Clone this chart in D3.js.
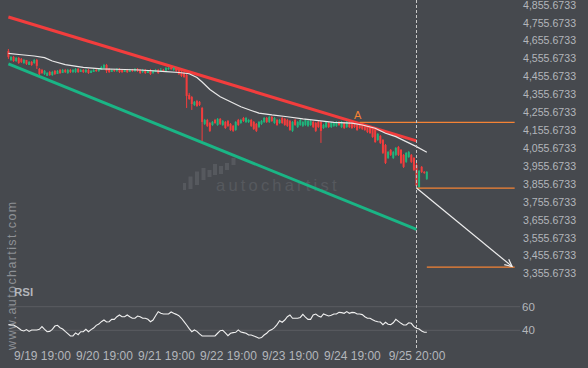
<!DOCTYPE html>
<html><head><meta charset="utf-8">
<script src="https://cdn.jsdelivr.net/npm/d3@7"></script>
<style>
html,body{margin:0;padding:0;background:#46494e;}
svg{display:block;}
text{font-family:"Liberation Sans",Arial,sans-serif;}
</style></head><body>
<svg id="c" width="588" height="368"></svg>
<script>
// ---------- DATA ----------
const startTime = "2019-09-19T06:00:00Z"; // first hourly candle
const opens = [4595,4545,4562,4539,4556,4551,4528,4545,4517,4534,4528,4545,4495,
4489,4467,4456,4478,4461,4484,4467,4489,4472,4489,
4472,4489,4478,4478,4495,4478,4489,4478,4489,4472,
4478,4489,4484,4489,4500,4517,4495,4478,4489,4484,
4495,4489,4478,4489,4478,4489,4484,4495,4489,4478,
4489,4472,4489,4472,4478,4489,4478,4489,4484,4495,
4500,4489,4500,4489,4478,4472,4461,4350,4338,4294,
4316,4311,4277,4188,4210,4193,4182,4210,4182,4216,
4182,4199,4204,4188,4177,4154,4210,4193,4221,4199,
4199,4210,4199,4188,4171,4188,4199,4221,4199,4227,
4193,4210,4193,4221,4216,4210,4204,4149,4210,4171,
4182,4177,4182,4177,4182,4199,4193,4199,4199,4165,
4171,4193,4171,4177,4177,4199,4171,4193,4171,4193,
4193,4193,4182,4182,4177,4171,4171,4171,4165,4154,
4098,4121,4098,4070,3998,4043,3998,4015,4059,4043,
4015,3976,4003,4015,3998,3959,3836,3948,3920,3881];
const closes = [4562,4562,4539,4556,4528,4534,4545,4523,4534,4517,4545,4512,4467,
4472,4484,4472,4461,4478,4467,4484,4472,4489,4478,
4489,4478,4489,4495,4478,4489,4478,4489,4472,4484,
4489,4484,4495,4506,4517,4484,4478,4489,4484,4495,
4478,4478,4489,4478,4489,4484,4495,4484,4472,4489,
4472,4484,4467,4484,4489,4472,4489,4484,4500,4500,
4495,4500,4484,4467,4456,4450,4344,4327,4299,4311,
4288,4294,4199,4210,4177,4149,4199,4193,4216,4188,
4204,4165,4177,4154,4149,4199,4182,4210,4204,4221,
4210,4177,4160,4149,4199,4204,4221,4199,4227,4204,
4221,4182,4210,4193,4182,4177,4154,4199,4182,4199,
4210,4199,4210,4204,4204,4171,4149,4171,4149,4182,
4199,4171,4193,4193,4199,4182,4199,4165,4199,4171,
4165,4171,4154,4165,4160,4154,4143,4137,4115,4087,
4132,4082,4026,3970,4031,4015,4031,4054,4015,3970,
3948,4026,4031,3976,3931,3842,3925,3920,3914,3920];
const highs = [4606,4567,4567,4562,4562,4556,4551,4545,4539,4539,4551,4551,4500,
4495,4489,4478,4484,4484,4489,4489,4495,4495,4495,
4495,4495,4495,4500,4500,4495,4495,4495,4495,4489,
4495,4495,4500,4512,4523,4523,4500,4495,4495,4500,
4500,4495,4495,4495,4495,4495,4500,4500,4495,4495,
4495,4489,4495,4489,4495,4495,4500,4495,4506,4506,
4506,4506,4506,4495,4489,4478,4467,4361,4344,4316,
4322,4316,4283,4216,4216,4199,4204,4216,4221,4221,
4210,4204,4210,4193,4182,4204,4216,4216,4227,4227,
4216,4216,4204,4193,4204,4210,4227,4227,4232,4232,
4227,4216,4216,4227,4221,4216,4210,4204,4216,4204,
4216,4204,4216,4210,4210,4204,4199,4204,4204,4188,
4204,4199,4199,4199,4204,4204,4204,4199,4204,4199,
4199,4199,4188,4188,4182,4177,4177,4177,4171,4160,
4137,4126,4104,4076,4037,4048,4037,4059,4065,4048,
4020,4031,4037,4020,4003,3970,3931,3953,3925,3925];
const lows = [4551,4539,4534,4534,4523,4528,4523,4517,4517,4512,4523,4495,4461,
4467,4461,4456,4456,4456,4461,4467,4467,4472,4472,
4467,4472,4472,4472,4472,4478,4472,4472,4467,4472,
4478,4478,4478,4489,4495,4472,4472,4478,4478,4478,
4472,4472,4478,4472,4478,4478,4478,4478,4467,4472,
4467,4472,4461,4467,4478,4467,4478,4478,4478,4489,
4489,4484,4478,4461,4450,4445,4277,4322,4266,4288,
4283,4288,4093,4182,4171,4143,4177,4188,4177,4182,
4177,4160,4171,4149,4143,4149,4177,4188,4199,4193,
4193,4171,4154,4143,4165,4182,4193,4193,4193,4199,
4188,4177,4188,4188,4177,4171,4149,4143,4177,4165,
4177,4171,4177,4171,4177,4165,4143,4165,4082,4160,
4165,4165,4165,4171,4171,4177,4165,4160,4165,4165,
4160,4165,4149,4160,4154,4149,4137,4132,4110,4082,
4093,4076,4020,3964,3992,4009,3992,4009,4009,3964,
3942,3970,3998,3970,3925,3830,3830,3914,3909,3875];
const rsi = [44.8,44.5,44.5,43.3,41.7,40.0,39.4,40.6,39.1,40.3,
40.3,40.3,40.8,43.1,40.8,38.8,39.1,40.8,43.6,44.2,
42.2,41.1,39.1,37.2,35.2,35.2,37.8,36.3,38.8,38.8,
40.8,38.8,40.6,41.9,44.2,45.3,47.3,48.7,47.0,47.3,
49.3,49.3,51.5,53.0,51.5,51.5,53.0,51.5,50.2,50.2,
52.1,51.5,50.2,50.2,49.3,47.3,48.7,52.4,55.8,54.4,
53.8,53.8,53.8,55.5,54.4,53.5,52.4,50.2,47.3,44.5,
41.4,38.8,40.3,39.1,36.9,35.2,35.2,35.2,35.2,35.2,
35.2,37.5,39.7,40.0,37.8,35.4,37.5,38.0,38.3,40.3,
38.5,38.0,37.5,36.0,36.0,35.2,34.4,33.3,33.8,36.0,
37.5,39.7,40.6,42.2,44.8,48.1,46.8,48.7,51.5,53.0,
50.2,50.2,50.2,50.9,53.5,51.2,49.3,49.3,53.0,53.8,
52.1,51.2,53.8,53.0,52.1,52.7,53.8,53.8,55.2,55.0,
54.4,55.8,54.4,55.2,55.0,53.8,53.8,53.3,51.5,50.2,
50.2,49.0,47.9,47.3,47.0,44.8,46.8,45.1,44.8,46.4,
49.3,47.6,45.9,44.5,44.5,46.4,45.9,43.1,41.7,41.1,
39.4,38.3,38.3];
// moving average (hour offset from start, value)
const maHours = [0,5,10,14,17,22,29,36,42,51,61,66,70,73,75,78,82,86,90,94,97,102,108,114,120,126,133,137,142,146,150,154,158,162];
const maValues = [4582,4574,4567,4558,4539,4519,4504,4495,4493,4489,4480,4475,4468,4447,4422,4380,4340,4312,4284,4263,4248,4238,4228,4216,4206,4196,4192,4182,4164,4136,4117,4089,4061,4030];
// channel lines (hour offset, price)
const resistanceHours = [0, 158], resistancePrices = [4785, 4093];
const supportHours = [0, 158], supportPrices = [4523, 3599];
// pattern levels
const levelNames = ["A", "breakout", "target"];
const levelPrices = [4197, 3830, 3388];
const levelStartHours = [136, 158, 162];
const levelEndHour = 196;
const labelAHour = 135.2;
// forecast arrow
const arrowHours = [158, 195], arrowPrices = [3830, 3392];
const signalHour = 158;
// axes
const yTickValues = [4855.6733,4755.6733,4655.6733,4555.6733,4455.6733,4355.6733,4255.6733,4155.6733,4055.6733,3955.6733,3855.6733,3755.6733,3655.6733,3555.6733,3455.6733,3355.6733];
const xTickHours = [13, 37, 61, 85, 109, 133, 158];
const xTickLabels = ["9/19 19:00","9/20 19:00","9/21 19:00","9/22 19:00","9/23 19:00","9/24 19:00","9/25 20:00"];
const rsiTicks = [60, 40];

// ---------- DRAW ----------
const W = 588, H = 368;
const C = {bg:"#46494e", red:"#f23d3d", green:"#1fb47c", gline:"#1ab585", orange:"#f58335", text:"#b3b6bb", grid:"#5a5d62"};
const t0 = new Date(startTime);
const hr = h => t0.getTime() + h * 3600e3;
const x = d3.scaleUtc().domain([t0, new Date(hr(158))]).range([8.4, 416.5]);
const xh = h => x(new Date(hr(h)));
const y = d3.scaleLinear().domain([3355.6733, 4855.6733]).range([273, 4.3]);
const yr = d3.scaleLinear().domain([40, 60]).range([330.3, 306.7]);

const svg = d3.select("#c");
svg.append("rect").attr("width", W).attr("height", H).attr("fill", C.bg);

// watermark logo
const wm = svg.append("g").attr("fill", "#56595e");
const logoBars = [[183,186,183,190],[188.5,192.5,176.5,189],[195,199,171.5,185],[201.5,205.5,168,180],[207.5,211.5,170,177],[213,217,164,175],[219,223,166,174],[225,229,163,170],[231.5,235.5,158,165]];
wm.selectAll("rect").data(logoBars).join("rect")
  .attr("x", d => d[0]).attr("width", d => d[1]-d[0]).attr("y", d => d[2]).attr("height", d => d[3]-d[2]);
wm.append("text").attr("x", 216).attr("y", 191).text("autochartist")
  .attr("font-family", "Lato, 'DejaVu Sans', sans-serif").attr("font-weight", 300)
  .attr("font-size", 16.5).attr("letter-spacing", 3.2);

// vertical site label
svg.append("text").attr("transform", "translate(16,350) rotate(-90)")
  .attr("fill", "#8d9095").attr("font-size", 12.5).attr("letter-spacing", 1.4)
  .text("www.autochartist.com");

// RSI grid
svg.selectAll("line.rg").data(rsiTicks).join("line").attr("class","rg")
  .attr("x1", 8).attr("x2", 520).attr("y1", d => yr(d)).attr("y2", d => yr(d))
  .attr("stroke", C.grid).attr("stroke-width", 1);

// channel lines
const line2 = (hs, ps) => d3.line().x((d,i) => xh(hs[i])).y((d,i) => y(ps[i]))(hs);
svg.append("path").attr("d", line2(supportHours, supportPrices)).attr("stroke", C.gline).attr("stroke-width", 3).attr("fill","none");
svg.append("path").attr("d", line2(resistanceHours, resistancePrices)).attr("stroke", C.red).attr("stroke-width", 3).attr("fill","none");

// candles
const candles = opens.map((o,i) => ({h:i, o, c:closes[i], hi:highs[i], lo:lows[i]}));
const cg = svg.append("g");
cg.selectAll("rect.w").data(candles).join("rect").attr("class","w")
  .attr("x", d => xh(d.h) - 0.5).attr("width", 1)
  .attr("y", d => y(d.hi)).attr("height", d => Math.max(1, y(d.lo) - y(d.hi)))
  .attr("fill", d => d.c >= d.o ? C.green : C.red);
cg.selectAll("rect.b").data(candles).join("rect").attr("class","b")
  .attr("x", d => xh(d.h) - 1).attr("width", 2)
  .attr("y", d => y(Math.max(d.o, d.c))).attr("height", d => Math.max(1, Math.abs(y(d.o) - y(d.c))))
  .attr("fill", d => d.c >= d.o ? C.green : C.red);

// moving average
svg.append("path").attr("d", d3.line().x((d,i) => xh(maHours[i])).y(d => y(d))(maValues))
  .attr("stroke", "#e8e8e8").attr("stroke-width", 1.2).attr("fill", "none");

// orange levels
svg.selectAll("line.lv").data(levelPrices).join("line").attr("class","lv")
  .attr("x1", (d,i) => xh(levelStartHours[i])).attr("x2", xh(levelEndHour))
  .attr("y1", d => y(d)).attr("y2", d => y(d))
  .attr("stroke", C.orange).attr("stroke-width", 1.3);
svg.append("text").attr("x", xh(labelAHour)).attr("y", y(levelPrices[0]) - 3)
  .attr("text-anchor", "middle").attr("fill", C.orange).attr("font-size", 11).text(levelNames[0]);

// arrow
const ax1 = xh(arrowHours[0]), ay1 = y(arrowPrices[0]), ax2 = xh(arrowHours[1]), ay2 = y(arrowPrices[1]);
svg.append("line").attr("x1", ax1).attr("y1", ay1).attr("x2", ax2).attr("y2", ay2)
  .attr("stroke", "#eeeeee").attr("stroke-width", 1.2);
const ang = Math.atan2(ay2 - ay1, ax2 - ax1), L = 8;
const head = [[ax2 - L*Math.cos(ang - 0.45), ay2 - L*Math.sin(ang - 0.45)], [ax2, ay2], [ax2 - L*Math.cos(ang + 0.45), ay2 - L*Math.sin(ang + 0.45)]];
svg.append("path").attr("d", d3.line()(head)).attr("stroke", "#eeeeee").attr("stroke-width", 1.2).attr("fill", "none");

// RSI line
svg.append("path").attr("d", d3.line().x((d,i) => xh(i)).y(d => yr(d))(rsi))
  .attr("stroke", "#f0f0f0").attr("stroke-width", 1.1).attr("fill", "none");

// signal dashed line
svg.append("line").attr("x1", xh(signalHour)).attr("x2", xh(signalHour)).attr("y1", 0).attr("y2", 350)
  .attr("stroke", "#c8c8c8").attr("stroke-width", 1).attr("stroke-dasharray", "3,2");

// y axis
const yAxis = d3.axisRight(y).tickValues(yTickValues).tickFormat(d3.format(",.4f")).tickSize(0).tickPadding(0);
const gy = svg.append("g").attr("transform", "translate(523,0)").call(yAxis);
gy.select(".domain").remove();
gy.selectAll("text").attr("fill", C.text).attr("font-size", 10.6).attr("font-family", "Liberation Sans, Arial, sans-serif")
  .attr("dy", "0.36em");

// RSI axis
const rAxis = d3.axisRight(yr).tickValues(rsiTicks).tickFormat(d3.format("d")).tickSize(0).tickPadding(0);
const gr = svg.append("g").attr("transform", "translate(522,0)").call(rAxis);
gr.select(".domain").remove();
gr.selectAll("text").attr("fill", C.text).attr("font-size", 11.5).attr("font-family", "Liberation Sans, Arial, sans-serif");

// x axis
const xAxis = d3.axisBottom(x).tickValues(xTickHours.map(h => new Date(hr(h))))
  .tickFormat((d,i) => xTickLabels[i]).tickSize(0).tickPadding(0);
const gx = svg.append("g").attr("transform", "translate(0,351)").call(xAxis);
gx.select(".domain").remove();
gx.selectAll("text").attr("fill", C.text).attr("font-size", 12).attr("font-family", "Liberation Sans, Arial, sans-serif");

// RSI label
svg.append("text").attr("x", 14).attr("y", 295.5).attr("fill", "#b3b6bb")
  .attr("font-size", 11.5).attr("font-weight", "bold").text("RSI");
</script>
</body></html>
